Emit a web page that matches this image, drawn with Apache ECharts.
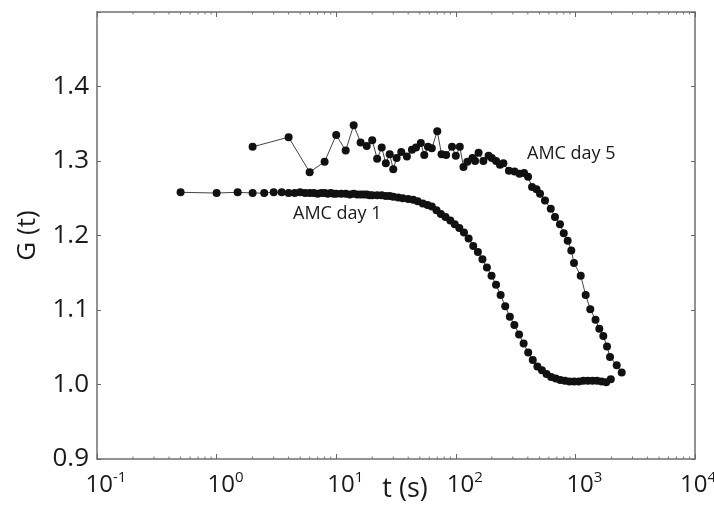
<!DOCTYPE html>
<html>
<head>
<meta charset="utf-8">
<script src="https://cdn.jsdelivr.net/npm/echarts@6/dist/echarts.min.js"></script>
<style>
html,body{margin:0;padding:0;background:#fff;}
#chart{width:714px;height:515px;}
</style>
</head>
<body>
<div id="chart"></div>
<script>
// AMC day 1
var day1T = [0.5,1,1.5,2,2.5,3,3.5,4,4.5,5,
    5.5,6,6.5,7,7.5,8,8.5,9,9.5,10,
    11,12,13,14,15,16,17,18,19,20,
    22,24,26,28,30,33,
    36,40,44,48,53,58,63,69,75,82,
    90,98,107,117,128,140,153,167,182,199,
    217,237,259,283,309,338,369,403,440,481,
    525,574,627,685,748,817,893,975,1065,1163,
    1271,1388,1516,1656,1809,1976];
var day1G = [1.258,1.257,1.258,1.257,1.257,1.258,1.258,1.257,1.257,1.258,
    1.257,1.257,1.257,1.256,1.257,1.257,1.256,1.257,1.256,1.256,
    1.256,1.256,1.255,1.256,1.255,1.255,1.255,1.255,1.254,1.254,
    1.254,1.254,1.253,1.253,1.252,1.251,
    1.250,1.249,1.248,1.246,1.243,1.241,1.239,1.234,1.229,1.225,
    1.220,1.215,1.210,1.204,1.196,1.186,1.178,1.168,1.157,1.146,
    1.134,1.120,1.105,1.091,1.080,1.067,1.055,1.043,1.033,1.024,
    1.019,1.014,1.010,1.008,1.006,1.005,1.004,1.004,1.004,1.005,
    1.005,1.005,1.005,1.004,1.003,1.007];

// AMC day 5
var day5T = [2,4,6,8,10,12,14,16,18,20,
    22,24,26,28,30,32,35,39,43,46.5,
    51,54.5,58.5,63,70,76,83,93,100,108,
    116,125,138,145,155,170,188,200,217,234,
    250,278,310,341,372,402,434,473,506,557,
    622,675,743,799,862,924,973,1108,1219,1332,
    1473,1585,1712,1838,1947,2215,2439];
var day5G = [1.319,1.332,1.285,1.299,1.335,1.314,1.348,1.325,1.320,1.328,
    1.303,1.318,1.297,1.309,1.289,1.304,1.312,1.306,1.315,1.318,
    1.324,1.308,1.319,1.317,1.340,1.309,1.308,1.319,1.307,1.319,
    1.292,1.299,1.304,1.300,1.311,1.300,1.307,1.304,1.300,1.295,
    1.297,1.287,1.286,1.283,1.284,1.279,1.265,1.262,1.256,1.247,
    1.236,1.225,1.215,1.203,1.193,1.180,1.163,1.146,1.120,1.101,
    1.087,1.075,1.065,1.051,1.037,1.026,1.016];

// minor ticks of the log axis (2..9 in each decade)
var minorTicks = [];
for (var d = -1; d < 4; d++) {
    for (var m = 2; m < 10; m++) minorTicks.push(m * Math.pow(10, d));
}

var font = '"Open Sans", "DejaVu Sans", sans-serif';
var axisGray = '#8c8c8c';
var textColor = '#1a1a1a';

var myChart = echarts.init(document.getElementById('chart'));

var options = {
    animation: false,
    backgroundColor: '#fff',
    grid: {
        left: 97,
        right: 19,
        top: 12,
        bottom: 56,
        outerBoundsMode: 'none',
        show: true,
        borderColor: axisGray,
        borderWidth: 1.5
    },
    xAxis: [
        {
            type: 'log',
            logBase: 10,
            min: 0.1,
            max: 10000,
            position: 'bottom',
            name: 't (s)',
            nameLocation: 'middle',
            nameGap: 17,
            nameMoveOverlap: false,
            nameTextStyle: {fontSize: 27, color: textColor, fontFamily: font, padding: [0, 0, 0, 18]},
            axisLine: {show: true, lineStyle: {color: axisGray, width: 1.5}},
            axisTick: {show: true, inside: true, length: 5, lineStyle: {color: '#666'}},
            splitLine: {show: false},
            axisLabel: {
                margin: 11,
                padding: [0, 0, 0, 18],
                formatter: function (v) {
                    var e = Math.round(Math.log10(v));
                    return '{b|10}{' + (e === 4 ? 'e' : 's') + '|' + e + '}';
                },
                rich: {
                    b: {fontSize: 24, color: textColor, fontFamily: font, lineHeight: 30},
                    s: {fontSize: 15, color: textColor, fontFamily: font, verticalAlign: 'top', lineHeight: 30},
                    e: {fontSize: 15, color: textColor, fontFamily: font, verticalAlign: 'top', lineHeight: 30, padding: [0, 12, 0, 0]}
                }
            }
        },
        {
            type: 'log',
            logBase: 10,
            min: 0.1,
            max: 10000,
            position: 'top',
            axisLine: {show: true, lineStyle: {color: axisGray, width: 1.5}},
            axisTick: {show: true, inside: true, length: 5, lineStyle: {color: '#666'}},
            axisLabel: {show: false},
            splitLine: {show: false}
        }
    ],
    yAxis: [
        {
            type: 'value',
            min: 0.9,
            max: 1.5,
            interval: 0.1,
            name: 'G (t)',
            nameLocation: 'middle',
            nameGap: 56,
            nameMoveOverlap: false,
            nameTextStyle: {fontSize: 26, color: textColor, fontFamily: font},
            axisLine: {show: true, lineStyle: {color: axisGray, width: 1.5}},
            axisTick: {show: true, inside: true, length: 4, lineStyle: {color: '#666'}},
            splitLine: {show: false},
            axisLabel: {
                margin: 8,
                fontSize: 26,
                color: textColor,
                fontFamily: font,
                formatter: function (v) {
                    return v > 1.45 ? '' : v.toFixed(1);
                }
            }
        },
        {
            type: 'value',
            min: 0.9,
            max: 1.5,
            interval: 0.1,
            position: 'right',
            axisLine: {show: true, lineStyle: {color: axisGray, width: 1.5}},
            axisTick: {show: true, inside: true, length: 4, lineStyle: {color: '#666'}},
            axisLabel: {show: false},
            splitLine: {show: false}
        }
    ],
    graphic: [
        {type: 'text', left: 527, top: 145, style: {text: 'AMC day 5', fontSize: 18, fill: textColor, fontFamily: font}},
        {type: 'text', left: 293, top: 205, style: {text: 'AMC day 1', fontSize: 18, fill: textColor, fontFamily: font}}
    ],
    series: [
        {
            type: 'custom',
            silent: true,
            clip: false,
            xAxisIndex: 0,
            yAxisIndex: 0,
            data: minorTicks.map(function (v) { return [v, 1.2]; }),
            renderItem: function (params, api) {
                var v = api.value(0);
                var b = api.coord([v, 0.9]);
                var t = api.coord([v, 1.5]);
                return {
                    type: 'group',
                    children: [
                        {type: 'line', shape: {x1: b[0], y1: b[1], x2: b[0], y2: b[1] - 2.5}, style: {stroke: '#777', lineWidth: 1}},
                        {type: 'line', shape: {x1: t[0], y1: t[1], x2: t[0], y2: t[1] + 2.5}, style: {stroke: '#777', lineWidth: 1}}
                    ]
                };
            }
        },
        {
            name: 'AMC day 1',
            type: 'line',
            xAxisIndex: 0,
            yAxisIndex: 0,
            data: day1T.map(function (t, i) { return [t, day1G[i]]; }),
            symbol: 'circle',
            symbolSize: 8,
            itemStyle: {color: '#111'},
            lineStyle: {color: '#444', width: 1}
        },
        {
            name: 'AMC day 5',
            type: 'line',
            xAxisIndex: 0,
            yAxisIndex: 0,
            data: day5T.map(function (t, i) { return [t, day5G[i]]; }),
            symbol: 'circle',
            symbolSize: 8,
            itemStyle: {color: '#111'},
            lineStyle: {color: '#444', width: 1}
        }
    ]
};

myChart.setOption(options);
</script>
</body>
</html>
